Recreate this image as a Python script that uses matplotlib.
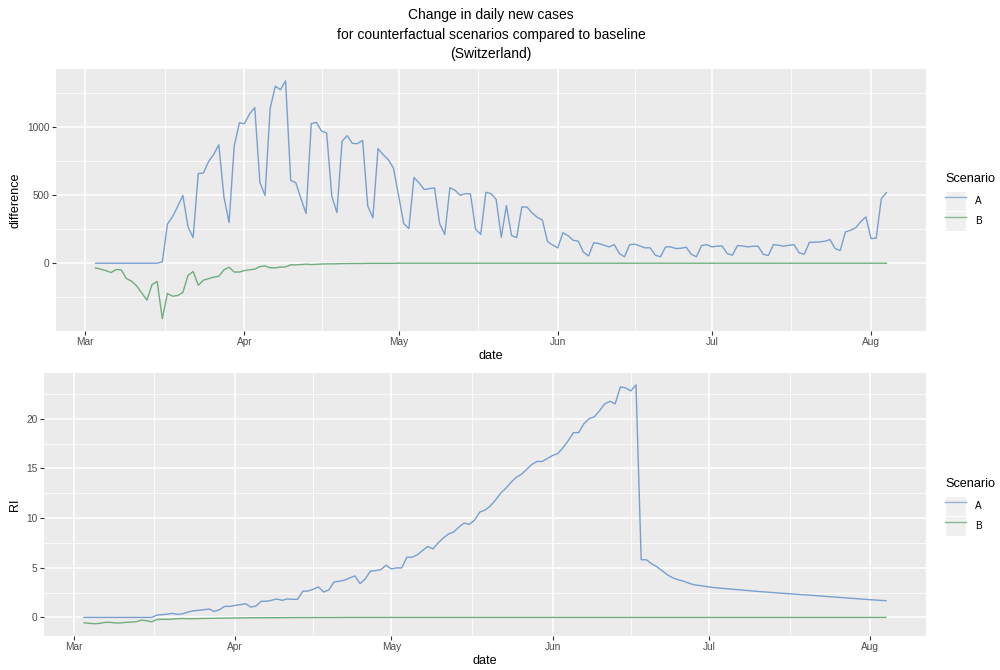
import numpy as np
import pandas as pd
import matplotlib
matplotlib.use('Agg')
import matplotlib.pyplot as plt
import matplotlib.dates as mdates
from matplotlib.patches import Rectangle
from matplotlib.lines import Line2D
from matplotlib.legend_handler import HandlerTuple

plt.rcParams['font.family'] = ['Liberation Sans', 'DejaVu Sans']

# daily series, 2020-03-03 .. 2020-08-04
dates = pd.date_range('2020-03-03', '2020-08-04', freq='D')
scenarios = ['A', 'B']
colors = ['#789FCF', '#6FAD7E']

# difference in daily new cases vs baseline
diff_A = [0]*13 + [
    10, 287, 343, 418, 499, 267, 189, 660, 664, 748, 800, 872, 488, 299,
    862, 1033, 1027, 1100, 1145, 595, 499, 1140, 1303, 1277, 1342, 610, 592, 475,
    365, 1027, 1037, 973, 958, 493, 372, 898, 939, 882, 880, 904, 421, 334,
    843, 799, 762, 701, 500, 292, 255, 630, 591, 542, 549, 554, 292, 211,
    556, 537, 500, 512, 510, 250, 212, 522, 512, 470, 191, 424, 204, 188,
    414, 413, 371, 338, 318, 160, 134, 113, 224, 203, 169, 162, 81, 54,
    150, 145, 132, 120, 137, 71, 47, 137, 140, 127, 113, 113, 59, 47,
    120, 120, 108, 110, 118, 66, 47, 130, 137, 120, 125, 127, 71, 59,
    130, 127, 120, 125, 125, 66, 56, 137, 132, 125, 132, 137, 76, 66,
    154, 154, 157, 162, 174, 108, 93, 230, 243, 260, 306, 341, 181, 184,
    475, 520]
diff_B = [
    -34, -44, -54, -69, -47, -49, -113, -132, -167, -220, -272, -157, -135, -408,
    -223, -243, -238, -216, -90, -61, -162, -125, -114, -103, -96, -49, -30, -65,
    -65, -54, -49, -44, -25, -20, -34, -34, -29, -27, -12, -12, -10, -7,
    -10, -8, -6, -5, -5, -4, -3, -3, -2, -2, -2, -1, -1, -1,
    -1, -1, -1] + [0]*96

# relative increase
ri_A = [0]*14 + [
    0.24, 0.27, 0.34, 0.40, 0.30, 0.37, 0.54, 0.67, 0.71, 0.77, 0.84, 0.60, 0.77,
    1.11, 1.11, 1.21, 1.28, 1.38, 1.04, 1.14, 1.62, 1.62, 1.72, 1.85, 1.72, 1.85,
    1.82, 1.82, 2.63, 2.66, 2.83, 3.06, 2.56, 2.76, 3.57, 3.64, 3.74, 3.97, 4.18,
    3.40, 3.87, 4.67, 4.71, 4.81, 5.25, 4.88, 4.98, 4.98, 6.06, 6.06, 6.30, 6.73,
    7.14, 6.90, 7.50, 8.00, 8.40, 8.60, 9.10, 9.50, 9.36, 9.80, 10.6, 10.8, 11.2,
    11.8, 12.5, 13.0, 13.6, 14.1, 14.4, 14.9, 15.4, 15.7, 15.7, 16.0, 16.3, 16.5,
    17.1, 17.8, 18.6, 18.6, 19.5, 20.0, 20.2, 20.8, 21.5, 21.75, 21.5, 23.2, 23.1,
    22.8, 23.4, 5.8, 5.8, 5.4, 5.1, 4.7, 4.3, 4.0, 3.8, 3.67, 3.47,
    3.30, 3.22, 3.14, 3.07, 3.00, 2.95, 2.90, 2.86, 2.82, 2.77, 2.72, 2.67, 2.63,
    2.59, 2.55, 2.51, 2.47, 2.43, 2.40, 2.36, 2.32, 2.28, 2.25, 2.21, 2.17, 2.13,
    2.09, 2.05, 2.02, 1.98, 1.94, 1.90, 1.86, 1.82, 1.78, 1.75, 1.71, 1.68]
ri_B = [
    -0.54, -0.60, -0.64, -0.60, -0.50, -0.50, -0.56, -0.56, -0.50, -0.47, -0.44,
    -0.27, -0.34, -0.44, -0.20, -0.20, -0.19, -0.17, -0.12, -0.11, -0.13, -0.12,
    -0.11, -0.10, -0.10, -0.08, -0.06, -0.07, -0.07, -0.06, -0.05, -0.05, -0.04,
    -0.04, -0.04, -0.04, -0.03, -0.03, -0.02, -0.02, -0.02, -0.02, -0.02, -0.01,
    -0.01, -0.01, -0.01, -0.01, -0.01] + [0]*106

BG = '#EBEBEB'


def style_panel(ax, yticks, ylabel):
    ax.set_facecolor(BG)
    for s in ax.spines.values():
        s.set_visible(False)
    ax.margins(x=0.05, y=0.05)
    ax.autoscale_view()
    ax.xaxis.set_major_locator(mdates.MonthLocator())
    ax.xaxis.set_major_formatter(mdates.DateFormatter('%b'))
    # minor breaks halfway between month starts (ggplot style)
    lo, hi = ax.get_xlim()
    majors = [t for t in ax.xaxis.get_major_locator()() if lo <= t <= hi]
    mids = [(a + b) / 2 for a, b in zip(majors[:-1], majors[1:])]
    ax.set_xticks(mids, minor=True)
    ax.set_yticks(yticks)
    step = yticks[1] - yticks[0]
    ylo, yhi = ax.get_ylim()
    ymin = np.arange(yticks[0] - step / 2, yhi, step)
    ax.set_yticks([v for v in ymin if ylo < v < yhi], minor=True)
    ax.set_xlim(lo, hi)
    ax.set_ylim(ylo, yhi)
    ax.grid(which='major', color='white', lw=1.1)
    ax.grid(which='minor', color='white', lw=0.55)
    ax.set_axisbelow(True)
    ax.tick_params(which='major', length=2.8, width=0.8, color='#333333',
                   labelcolor='#4D4D4D', labelsize=7.3, pad=2)
    ax.tick_params(which='minor', length=0)
    ax.set_xlabel('date', fontsize=9.1, labelpad=2)
    ax.set_ylabel(ylabel, fontsize=9.1, labelpad=4)


def add_legend(ax, y_center):
    handles = []
    for c in colors:
        box = Rectangle((0, 0), 1, 1, facecolor='#F0F0F0', edgecolor='white', lw=0.8)
        ln = Line2D([], [], color=c, lw=1.0, alpha=0.8)
        handles.append((box, ln))
    leg = ax.legend(handles, scenarios, title='Scenario', loc='center left',
                    bbox_to_anchor=(0.945, y_center), bbox_transform=ax.figure.transFigure,
                    frameon=False, fontsize=7.2, title_fontsize=9.1,
                    handler_map={tuple: HandlerTuple(ndivide=1, pad=0)},
                    handlelength=2.1, handleheight=2.7, labelspacing=0,
                    handletextpad=0.9, borderpad=0, borderaxespad=0,
                    alignment='left')
    # a little more room under the legend title, as in ggplot
    leg._legend_box.sep = 4
    return leg


fig = plt.figure(figsize=(10, 6.7), dpi=100)
ax1 = fig.add_axes([0.056, 0.5067, 0.870, 0.3903])
ax2 = fig.add_axes([0.044, 0.0512, 0.882, 0.3921])

ax1.plot(dates, diff_A, color=colors[0], lw=1.0)
ax1.plot(dates, diff_B, color=colors[1], lw=1.0)
style_panel(ax1, [0, 500, 1000], 'difference')
add_legend(ax1, 1 - 202 / 670)

ax2.plot(dates, ri_A, color=colors[0], lw=1.0)
ax2.plot(dates, ri_B, color=colors[1], lw=1.0)
style_panel(ax2, [0, 5, 10, 15, 20], 'RI')
add_legend(ax2, 1 - 507 / 670)

fig.text(0.491, 1 - 8 / 670,
         'Change in daily new cases\nfor counterfactual scenarios compared to baseline\n(Switzerland)',
         ha='center', va='top', fontsize=10.0, linespacing=1.5)

fig.savefig('out.png', dpi=100)
